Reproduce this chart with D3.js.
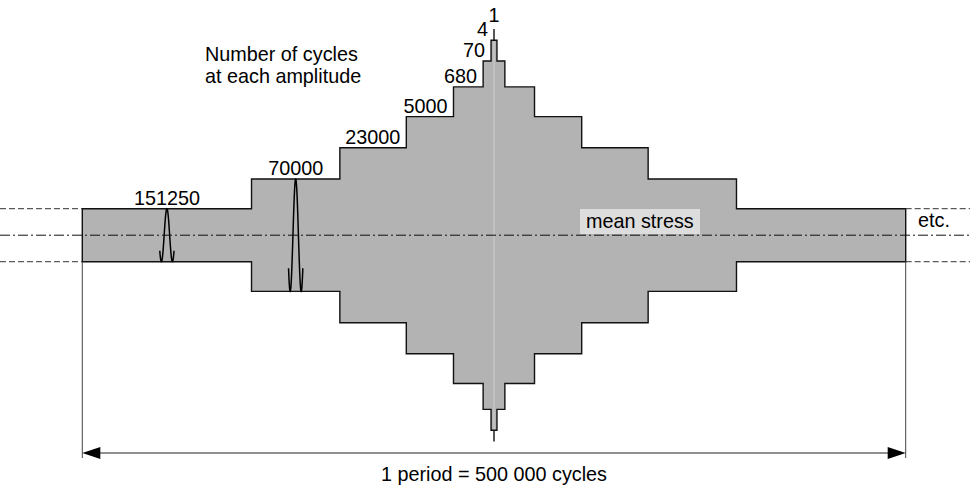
<!DOCTYPE html>
<html>
<head>
<meta charset="utf-8">
<script src="https://cdn.jsdelivr.net/npm/d3@7"></script>
<style>
  body { margin: 0; background: #fff; }
  svg text { font-family: "Liberation Sans", Arial, sans-serif; font-size: 19.8px; fill: #000; }
</style>
</head>
<body>
<div id="chart"></div>
<script>
// number of cycles at each amplitude block (outer block first)
var cycleLabels = ["151250", "70000", "23000", "5000", "680", "70", "4", "1"];
// stress amplitude of each block, % of the largest one
var amplitude = [12.85, 27.24, 42.41, 57.49, 71.89, 84.44, 94.52, 100];
// where each block starts inside the period (0..1), blocks are symmetric about 0.5
var blockStart = [0, 0.2055, 0.3128, 0.3935, 0.4508, 0.4868, 0.4964, 0.5];
// example cycles drawn inside the first blocks
var waveBlocks = [0, 1];

var width = 970, height = 488;

var svg = d3.select("#chart").append("svg")
  .attr("width", width)
  .attr("height", height);

// period fraction -> px
var x = d3.scaleLinear().domain([0, 1]).range([82.3, 905.7]);
// amplitude -> px, mean stress at 0
var y = d3.scaleLinear().domain([-100, 100]).range([441.5, 28.9]);

var n = amplitude.length;

// build the stepped outline: top half left to right, then bottom half back
var pts = [];
pts.push([x(blockStart[0]), y(-amplitude[0])]);
for (var i = 0; i < n; i++) {
  if (i > 0) pts.push([x(blockStart[i]), y(amplitude[i - 1])]);
  pts.push([x(blockStart[i]), y(amplitude[i])]);
}
for (var i = n - 1; i >= 0; i--) {
  pts.push([x(1 - blockStart[i]), y(amplitude[i])]);
  if (i > 0) pts.push([x(1 - blockStart[i]), y(amplitude[i - 1])]);
}
for (var i = 0; i < n; i++) {
  if (i > 0) pts.push([x(1 - blockStart[i]), y(-amplitude[i - 1])]);
  pts.push([x(1 - blockStart[i]), y(-amplitude[i])]);
}
for (var i = n - 1; i >= 0; i--) {
  pts.push([x(blockStart[i]), y(-amplitude[i])]);
  if (i > 0) pts.push([x(blockStart[i]), y(-amplitude[i - 1])]);
}

svg.append("path")
  .attr("d", d3.line()(pts) + "Z")
  .style("fill", "#b3b3b3")
  .style("stroke", "#111")
  .style("stroke-width", 1.4)
  .style("stroke-linejoin", "miter");

// faint centre line
svg.append("line")
  .attr("x1", x(0.5)).attr("x2", x(0.5))
  .attr("y1", y(amplitude[n - 2]) + 1)
  .attr("y2", y(-amplitude[n - 2]) - 1)
  .style("stroke", "#cfcfcf")
  .style("stroke-width", 1);

// dashed continuation of the outer block
[amplitude[0], -amplitude[0]].forEach(function (a) {
  svg.append("line")
    .attr("x1", 0).attr("x2", x(0))
    .attr("y1", y(a)).attr("y2", y(a))
    .style("stroke", "#333").style("stroke-width", 1)
    .style("stroke-dasharray", "6,3");
  svg.append("line")
    .attr("x1", x(1)).attr("x2", width)
    .attr("y1", y(a)).attr("y2", y(a))
    .style("stroke", "#333").style("stroke-width", 1)
    .style("stroke-dasharray", "6,3");
});

// example cycles (a bit more than one cosine period)
var waveW = 11;
waveBlocks.forEach(function (b) {
  var cx = (x(blockStart[b]) + x(blockStart[b + 1])) / 2;
  var a = amplitude[b];
  var wave = d3.range(-0.15, 1.1501, 0.01).map(function (t) {
    return [cx + (t - 0.5) * waveW, y(-a * Math.cos(2 * Math.PI * t))];
  });
  svg.append("path")
    .attr("d", d3.line()(wave))
    .style("fill", "none")
    .style("stroke", "#000")
    .style("stroke-width", 1.5);
});

// mean stress label
svg.append("rect")
  .attr("x", 580).attr("y", 209)
  .attr("width", 120).attr("height", 25)
  .style("fill", "#dddddd");
svg.append("text")
  .attr("x", 586).attr("y", 227.5)
  .text("mean stress");

// dash-dot mean line
svg.append("line")
  .attr("x1", 0).attr("x2", width)
  .attr("y1", y(0)).attr("y2", y(0))
  .style("stroke", "#111").style("stroke-width", 1)
  .style("stroke-dasharray", "10,3,2,3");

svg.append("text")
  .attr("x", 918).attr("y", 227)
  .text("etc.");

// cycle count labels above each block
cycleLabels.forEach(function (lab, i) {
  var t = svg.append("text").text(lab)
    .attr("text-anchor", "middle");
  var w = t.node().getComputedTextLength();
  var cx, gap = 4;
  if (i < n - 1) {
    var mid = (x(blockStart[i]) + x(blockStart[i + 1])) / 2;
    cx = Math.min(mid, x(blockStart[i + 1]) - 6 - w / 2);
  } else {
    cx = x(blockStart[i]);
    gap = 7;
  }
  t.attr("x", cx).attr("y", y(amplitude[i]) - gap);
});

svg.append("text").attr("x", 205).attr("y", 61).text("Number of cycles");
svg.append("text").attr("x", 205).attr("y", 83).text("at each amplitude");

// period dimension
var dimY = 453;
[0, 1].forEach(function (p) {
  svg.append("line")
    .attr("x1", x(p)).attr("x2", x(p))
    .attr("y1", y(-amplitude[0])).attr("y2", dimY + 5)
    .style("stroke", "#444").style("stroke-width", 1);
});
svg.append("line")
  .attr("x1", x(0) + 10).attr("x2", x(1) - 10)
  .attr("y1", dimY).attr("y2", dimY)
  .style("stroke", "#222").style("stroke-width", 1.2);
svg.append("path")
  .attr("d", "M" + x(0) + "," + dimY + "L" + (x(0) + 18) + "," + (dimY - 6) + "L" + (x(0) + 18) + "," + (dimY + 6) + "Z")
  .style("fill", "#000");
svg.append("path")
  .attr("d", "M" + x(1) + "," + dimY + "L" + (x(1) - 18) + "," + (dimY - 6) + "L" + (x(1) - 18) + "," + (dimY + 6) + "Z")
  .style("fill", "#000");

svg.append("text")
  .attr("x", x(0.5)).attr("y", 481)
  .attr("text-anchor", "middle")
  .text("1 period = 500 000 cycles");
</script>
</body>
</html>
